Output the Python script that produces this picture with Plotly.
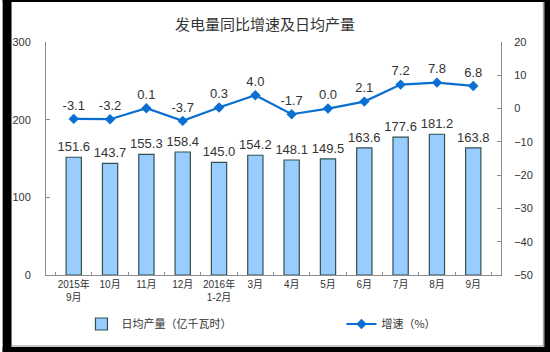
import plotly.graph_objects as go

categories = ["2015年<br>9月", "10月", "11月", "12月", "2016年<br>1-2月", "3月",
              "4月", "5月", "6月", "7月", "8月", "9月"]
daily_output = [151.6, 143.7, 155.3, 158.4, 145.0, 154.2, 148.1, 149.5, 163.6, 177.6, 181.2, 163.8]
growth_rate = [-3.1, -3.2, 0.1, -3.7, 0.3, 4.0, -1.7, 0.0, 2.1, 7.2, 7.8, 6.8]
bar_name = "日均产量（亿千瓦时）"
line_name = "增速（%）"
title_text = "发电量同比增速及日均产量"

W, H = 550, 352
L, R, T, B = 39, 501, 42, 275


def px(x):
    return (x - L) / (R - L)


def py(y):
    return (B - y) / (B - T)


cjk = "Noto Sans CJK SC, Liberation Sans, sans-serif"
num = "Liberation Sans, Arial, sans-serif"
tick_font = "Liberation Sans, Noto Sans CJK SC, sans-serif"
txt = "#333333"
axis_col = "#8c8c8c"

fig = go.Figure()
fig.add_trace(go.Bar(
    x=categories, y=daily_output, name=bar_name, legend="legend",
    marker=dict(color="#99ccff", line=dict(color="#2f5252", width=1.2)),
    width=0.42,
    text=[f"{v:.1f}" for v in daily_output], textposition="outside",
    constraintext="none",
    textfont=dict(family=num, size=13, color=txt), cliponaxis=False,
))
fig.add_trace(go.Scatter(
    x=categories, y=growth_rate, name=line_name, yaxis="y2", legend="legend2",
    mode="lines+markers+text",
    line=dict(color="#0a6fd0", width=2.2),
    marker=dict(symbol="diamond", size=8, color="#0a6fd0"),
    text=[f"{v:.1f}" for v in growth_rate], textposition="top center",
    textfont=dict(family=num, size=13, color=txt), cliponaxis=False,
))

shapes = []
blk = dict(type="rect", xref="paper", yref="paper", fillcolor="black", line=dict(width=0), layer="above")
shapes.append(dict(blk, x0=px(-5), x1=px(4), y0=py(-5), y1=py(360)))
shapes.append(dict(blk, x0=px(-5), x1=px(560), y0=py(-5), y1=py(2)))
shapes.append(dict(blk, x0=px(545), x1=px(560), y0=py(-5), y1=py(360)))
shapes.append(dict(blk, x0=px(-5), x1=px(560), y0=py(347), y1=py(360)))
shapes.append(dict(type="line", xref="paper", yref="paper", x0=px(544), x1=px(544),
                   y0=py(2), y1=py(346.5), line=dict(color="#909090", width=1)))
shapes.append(dict(type="line", xref="paper", yref="paper", x0=px(4), x1=px(544),
                   y0=py(346), y1=py(346), line=dict(color="#909090", width=1)))

legend_common = dict(orientation="h", yanchor="middle", xanchor="left",
                     font=dict(family=cjk, size=11, color=txt), bgcolor="rgba(0,0,0,0)")

fig.update_layout(
    width=W, height=H,
    margin=dict(l=L, r=W - R, t=T, b=H - B, pad=0),
    paper_bgcolor="white", plot_bgcolor="white",
    title=dict(text=title_text, x=265 / W, xanchor="center", y=1 - 25 / H, yanchor="middle",
               font=dict(family=cjk, size=15, color=txt)),
    showlegend=True,
    legend=dict(legend_common, x=px(75), y=py(324)),
    legend2=dict(legend_common, x=px(339), y=py(324)),
    xaxis=dict(type="category", showline=True, linecolor=axis_col, linewidth=1,
               ticks="inside", tickson="boundaries", ticklen=3, tickcolor=axis_col,
               tickangle=0,
               tickfont=dict(family=tick_font, size=10, color=txt), showgrid=False),
    yaxis=dict(range=[0, 300], dtick=100, showline=True, linecolor=axis_col, linewidth=1,
               ticks="inside", ticklen=4, tickcolor=axis_col, showgrid=False, zeroline=False,
               tickfont=dict(family=num, size=11, color=txt), ticklabelstandoff=12),
    yaxis2=dict(range=[-50, 20], dtick=10, overlaying="y", side="right", showline=True,
                linecolor=axis_col, linewidth=1, ticks="inside", ticklen=4, tickcolor=axis_col,
                showgrid=False, zeroline=False, tickfont=dict(family=num, size=11, color=txt),
                ticklabelstandoff=10),
    shapes=shapes,
    bargap=0.58,
)

fig.write_html("out.html")
